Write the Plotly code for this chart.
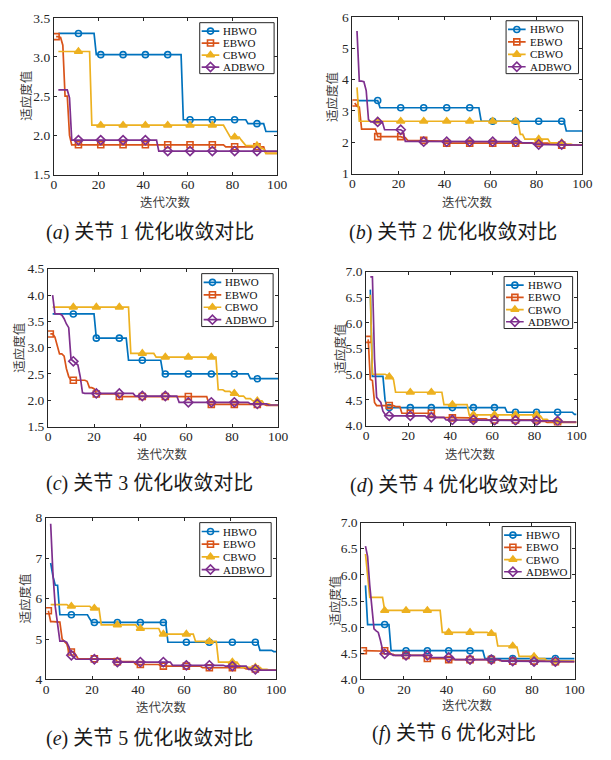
import plotly.graph_objects as go

W, H = 611, 760
LAST_ITER = 100

NAMES = ["HBWO", "EBWO", "CBWO", "ADBWO"]
COLORS = ["#0072BD", "#D95319", "#EDB120", "#7E2F8E"]
SYMBOLS = ["circle-open", "square-open", "triangle-up", "diamond-open"]
SIZES = [6, 6, 7, 7]

# Best-so-far fitness curves: iteration where each level starts, and the level.
# Joint 1
J1_HBWO_IT = [2, 19, 58, 87, 95]
J1_HBWO_FIT = [3.30, 3.03, 2.20, 2.15, 2.05]
J1_EBWO_IT = [1, 3, 4, 5, 7, 8, 77, 95]
J1_EBWO_FIT = [3.26, 3.25, 3.15, 2.50, 2.00, 1.88, 1.855, 1.77]
J1_CBWO_IT = [2, 17, 77, 78, 79, 84, 85, 86, 92, 93, 95]
J1_CBWO_FIT = [3.07, 2.13, 2.08, 2.02, 1.98, 1.94, 1.90, 1.87, 1.85, 1.83, 1.77]
J1_ADBWO_IT = [2, 7, 8, 47]
J1_ADBWO_FIT = [2.58, 2.48, 1.94, 1.80]

# Joint 2
J2_HBWO_IT = [2, 12, 56, 93]
J2_HBWO_FIT = [3.33, 3.10, 2.67, 2.36]
J2_EBWO_IT = [1, 2, 3, 4, 11, 22, 24, 37, 40, 86, 90]
J2_EBWO_FIT = [3.25, 3.15, 3.12, 2.42, 2.18, 2.15, 2.06, 2.04, 1.97, 1.94, 1.91]
J2_CBWO_IT = [2, 3, 73, 75, 86, 93, 96]
J2_CBWO_FIT = [3.75, 2.67, 2.25, 2.10, 1.98, 1.94, 1.91]
J2_ADBWO_IT = [2, 3, 5, 6, 7, 8, 14, 22, 23, 31, 74, 79, 93]
J2_ADBWO_FIT = [5.55, 3.95, 3.93, 3.65, 2.72, 2.65, 2.40, 2.35, 2.03, 2.02, 1.98, 1.93, 1.91]

# Joint 3
J3_HBWO_IT = [2, 21, 35, 50, 88]
J3_HBWO_FIT = [3.64, 3.18, 2.76, 2.50, 2.41]
J3_EBWO_IT = [1, 3, 4, 5, 7, 8, 9, 10, 17, 18, 20, 21, 31, 70, 95]
J3_EBWO_FIT = [3.26, 3.20, 3.05, 2.88, 2.84, 2.60, 2.45, 2.38, 2.36, 2.24, 2.22, 2.12, 2.07, 1.92, 1.90]
J3_CBWO_IT = [2, 36, 47, 74, 77, 80, 83, 86, 89, 94, 97]
J3_CBWO_FIT = [3.77, 2.89, 2.82, 2.20, 2.17, 2.13, 2.08, 2.03, 1.99, 1.93, 1.91]
J3_ADBWO_IT = [2, 3, 6, 7, 8, 9, 10, 11, 12, 13, 14, 15, 16, 38, 57, 88, 96]
J3_ADBWO_FIT = [4.00, 3.64, 3.62, 3.55, 3.45, 3.38, 2.78, 2.74, 2.70, 2.67, 2.45, 2.14, 2.13, 2.08, 1.96, 1.93, 1.91]

# Joint 4
J4_HBWO_IT = [2, 3, 9, 10, 67, 99]
J4_HBWO_FIT = [6.65, 4.96, 4.50, 4.35, 4.26, 4.22]
J4_EBWO_IT = [1, 2, 3, 4, 5, 14, 17, 33, 40, 50, 58, 82, 86]
J4_EBWO_FIT = [5.68, 4.90, 4.88, 4.45, 4.39, 4.37, 4.24, 4.16, 4.15, 4.13, 4.11, 4.08, 4.06]
J4_CBWO_IT = [2, 3, 10, 11, 13, 14, 37, 49, 82, 84, 87, 95]
J4_CBWO_FIT = [6.55, 5.00, 4.98, 4.95, 4.90, 4.65, 4.41, 4.21, 4.18, 4.12, 4.08, 4.07]
J4_ADBWO_IT = [2, 4, 5, 6, 7, 8, 9, 10, 11, 29, 38, 60, 80, 92]
J4_ADBWO_FIT = [6.90, 5.30, 4.55, 4.50, 4.45, 4.28, 4.22, 4.20, 4.19, 4.16, 4.11, 4.10, 4.09, 4.07]

# Joint 5
J5_HBWO_IT = [2, 3, 4, 6, 19, 20, 53, 93, 99]
J5_HBWO_FIT = [6.88, 6.55, 6.33, 5.60, 5.50, 5.41, 4.92, 4.72, 4.69]
J5_EBWO_IT = [1, 2, 6, 7, 8, 9, 10, 13, 14, 31, 39, 50, 68, 87, 92]
J5_EBWO_FIT = [5.70, 5.43, 5.42, 5.00, 4.93, 4.88, 4.68, 4.60, 4.51, 4.44, 4.37, 4.33, 4.29, 4.26, 4.23]
J5_CBWO_IT = [2, 10, 20, 24, 40, 50, 65, 75, 84, 85, 94, 97]
J5_CBWO_FIT = [5.85, 5.81, 5.76, 5.35, 5.26, 5.12, 4.94, 4.43, 4.35, 4.30, 4.25, 4.23]
J5_ADBWO_IT = [2, 3, 4, 5, 6, 9, 10, 11, 12, 13, 30, 55, 78, 88, 92]
J5_ADBWO_FIT = [7.85, 6.60, 5.80, 5.30, 4.95, 4.92, 4.80, 4.60, 4.55, 4.50, 4.43, 4.35, 4.33, 4.25, 4.23]

# Joint 6
J6_HBWO_IT = [2, 3, 14, 58]
J6_HBWO_FIT = [5.80, 5.05, 4.55, 4.40]
J6_EBWO_IT = [1, 12, 14, 16, 31, 40, 65, 70, 90]
J6_EBWO_FIT = [4.55, 4.54, 4.48, 4.46, 4.40, 4.38, 4.36, 4.35, 4.34]
J6_CBWO_IT = [2, 3, 4, 11, 38, 60, 64, 72, 74, 83, 87, 89]
J6_CBWO_FIT = [6.40, 6.00, 5.57, 5.32, 4.90, 4.88, 4.64, 4.62, 4.44, 4.40, 4.36, 4.35]
J6_ADBWO_IT = [2, 3, 4, 5, 6, 7, 8, 9, 10, 11, 15, 33, 44, 66, 77]
J6_ADBWO_FIT = [6.55, 6.35, 5.80, 5.30, 4.97, 4.93, 4.90, 4.75, 4.57, 4.49, 4.46, 4.42, 4.38, 4.35, 4.34]

X_TICKS = [0, 20, 40, 60, 80, 100]
X_TITLE = "迭代次数"
Y_TITLE = "适应度值"

PANELS = [
    dict(tag="a", caption="关节 1 优化收敛对比",
         it=[J1_HBWO_IT, J1_EBWO_IT, J1_CBWO_IT, J1_ADBWO_IT],
         fit=[J1_HBWO_FIT, J1_EBWO_FIT, J1_CBWO_FIT, J1_ADBWO_FIT],
         yrange=[1.5, 3.5], dtick=0.5, fmt=".1f",
         box=(52, 280, 11, 171), cap=(150, 230), leg=(201, 16, 76, 52),
         ytl=(23, 91), xtl=(166, 198)),
    dict(tag="b", caption="关节 2 优化收敛对比",
         it=[J2_HBWO_IT, J2_EBWO_IT, J2_CBWO_IT, J2_ADBWO_IT],
         fit=[J2_HBWO_FIT, J2_EBWO_FIT, J2_CBWO_FIT, J2_ADBWO_FIT],
         yrange=[1, 6], dtick=1, fmt="d",
         box=(357, 592, 10, 170), cap=(460, 230), leg=(514, 14, 74, 54),
         ytl=(335, 92), xtl=(475, 198)),
    dict(tag="c", caption="关节 3 优化收敛对比",
         it=[J3_HBWO_IT, J3_EBWO_IT, J3_CBWO_IT, J3_ADBWO_IT],
         fit=[J3_HBWO_FIT, J3_EBWO_FIT, J3_CBWO_FIT, J3_ADBWO_FIT],
         yrange=[1.5, 4.5], dtick=0.5, fmt=".1f",
         box=(46, 281, 267, 428), cap=(150, 486), leg=(203, 272, 73, 54),
         ytl=(15, 348), xtl=(163, 455)),
    dict(tag="d", caption="关节 4 优化收敛对比",
         it=[J4_HBWO_IT, J4_EBWO_IT, J4_CBWO_IT, J4_ADBWO_IT],
         fit=[J4_HBWO_FIT, J4_EBWO_FIT, J4_CBWO_FIT, J4_ADBWO_FIT],
         yrange=[4.0, 7.0], dtick=0.5, fmt=".1f",
         box=(371, 586, 270, 427), cap=(461, 488), leg=(512, 275, 70, 53),
         ytl=(343, 349), xtl=(478, 455)),
    dict(tag="e", caption="关节 5 优化收敛对比",
         it=[J5_HBWO_IT, J5_EBWO_IT, J5_CBWO_IT, J5_ADBWO_IT],
         fit=[J5_HBWO_FIT, J5_EBWO_FIT, J5_CBWO_FIT, J5_ADBWO_FIT],
         yrange=[4, 8], dtick=1, fmt="d",
         box=(44, 279, 521, 686), cap=(150, 746), leg=(201, 526, 73, 55),
         ytl=(22, 604), xtl=(162, 714)),
    dict(tag="f", caption="关节 6 优化对比",
         it=[J6_HBWO_IT, J6_EBWO_IT, J6_CBWO_IT, J6_ADBWO_IT],
         fit=[J6_HBWO_FIT, J6_EBWO_FIT, J6_CBWO_FIT, J6_ADBWO_FIT],
         yrange=[4.0, 7.0], dtick=0.5, fmt=".1f",
         box=(366, 584, 526, 686), cap=(461, 741), leg=(510, 530, 70, 53),
         ytl=(338, 606), xtl=(475, 712)),
]

SERIF = "Liberation Serif, 'Times New Roman', serif"
MIXED = "Liberation Serif, 'Noto Sans CJK SC', serif"
INK = "#262626"
LINE_W = 1.7

# Legend key geometry, in pixels inside each legend frame
KEY_X0, KEY_X1, KEY_MID, KEY_TEXT = 2, 20, 11, 22
ROW_FRAC0, ROW_STEP = 0.165, 0.235


def held_curve(starts, levels):
    """Expand level-change points into one best-so-far value per iteration."""
    xs, ys = [], []
    j = 0
    for k in range(starts[0], LAST_ITER + 1):
        while j + 1 < len(starts) and starts[j + 1] <= k:
            j += 1
        xs.append(k)
        ys.append(levels[j])
    return xs, ys


def marker_style(s):
    return dict(symbol=SYMBOLS[s], size=SIZES[s], color=COLORS[s],
                line=dict(width=1.6, color=COLORS[s]))


fig = go.Figure()
layout = dict(
    width=W, height=H, margin=dict(l=0, r=0, t=0, b=0),
    paper_bgcolor="white", plot_bgcolor="rgba(0,0,0,0)",
    font=dict(family=SERIF, size=13, color=INK),
    showlegend=False,
    annotations=[],
)

n_panels = len(PANELS)
for p_idx, p in enumerate(PANELS, start=1):
    xa = "x" if p_idx == 1 else f"x{p_idx}"
    ya = "y" if p_idx == 1 else f"y{p_idx}"
    for s, name in enumerate(NAMES):
        xs, ys = held_curve(p["it"][s], p["fit"][s])
        mk = [i for i, k in enumerate(xs) if (k - 1) % 10 == 0]
        fig.add_trace(go.Scatter(x=xs, y=ys, mode="lines", xaxis=xa, yaxis=ya,
                                 name=name, line=dict(color=COLORS[s], width=LINE_W),
                                 hoverinfo="skip"))
        fig.add_trace(go.Scatter(x=[xs[i] for i in mk], y=[ys[i] for i in mk],
                                 mode="markers", xaxis=xa, yaxis=ya, name=name,
                                 marker=marker_style(s)))

    l, r, t, b = p["box"]
    axis_common = dict(showline=True, linecolor=INK, linewidth=1, mirror="ticks",
                       ticks="inside", ticklen=3, tickcolor=INK, showgrid=False,
                       zeroline=False, tickfont=dict(family=SERIF, size=13.5, color=INK))
    layout["xaxis" if p_idx == 1 else f"xaxis{p_idx}"] = dict(
        axis_common, domain=[l / W, r / W], anchor=ya, range=[0, 100],
        tickvals=X_TICKS, ticklabelstandoff=-3)
    layout["yaxis" if p_idx == 1 else f"yaxis{p_idx}"] = dict(
        axis_common, domain=[1 - b / H, 1 - t / H], anchor=xa,
        range=p["yrange"], dtick=p["dtick"], tick0=p["yrange"][0],
        tickformat=p["fmt"])

    # Legend frame on its own hidden axes, one pixel per unit
    n = n_panels + p_idx
    lxa, lya = f"x{n}", f"y{n}"
    gx, gy, gw, gh = p["leg"]
    layout[f"xaxis{n}"] = dict(domain=[(gx - 2) / W, (gx + gw + 2) / W],
                               range=[-2, gw + 2], visible=False, anchor=lya,
                               fixedrange=True)
    layout[f"yaxis{n}"] = dict(domain=[1 - (gy + gh + 2) / H, 1 - (gy - 2) / H],
                               range=[gh + 2, -2], visible=False, anchor=lxa,
                               fixedrange=True)
    fig.add_trace(go.Scatter(x=[0, gw, gw, 0, 0], y=[0, 0, gh, gh, 0],
                             mode="lines", fill="toself", fillcolor="white",
                             line=dict(color=INK, width=1), xaxis=lxa, yaxis=lya,
                             hoverinfo="skip"))
    for s, name in enumerate(NAMES):
        row = gh * (ROW_FRAC0 + s * ROW_STEP)
        fig.add_trace(go.Scatter(x=[KEY_X0, KEY_X1], y=[row, row], mode="lines",
                                 line=dict(color=COLORS[s], width=LINE_W),
                                 xaxis=lxa, yaxis=lya, hoverinfo="skip"))
        fig.add_trace(go.Scatter(x=[KEY_MID], y=[row], mode="markers",
                                 marker=marker_style(s), xaxis=lxa, yaxis=lya,
                                 hoverinfo="skip"))
        layout["annotations"].append(dict(
            text=name, x=KEY_TEXT, y=row, xref=lxa, yref=lya, showarrow=False,
            xanchor="left", yanchor="middle",
            font=dict(family=SERIF, size=11, color="#111111")))

    cx, cy = p["cap"]
    layout["annotations"].append(dict(
        text=f"(<i>{p['tag']}</i>) {p['caption']}", x=cx / W, y=1 - cy / H,
        xref="paper", yref="paper", showarrow=False, xanchor="center",
        yanchor="middle", font=dict(family=MIXED, size=20, color="#1a1a1a")))
    tx, ty = p["xtl"]
    layout["annotations"].append(dict(
        text=X_TITLE, x=tx / W, y=1 - ty / H, xref="paper", yref="paper",
        showarrow=False, xanchor="center", yanchor="middle",
        font=dict(family="Noto Sans CJK SC", size=12.5, color="#404040")))
    vx, vy = p["ytl"]
    layout["annotations"].append(dict(
        text=Y_TITLE, x=vx / W, y=1 - vy / H, xref="paper", yref="paper",
        showarrow=False, xanchor="center", yanchor="middle", textangle=-90,
        font=dict(family="Noto Sans CJK SC", size=12.5, color="#404040")))

fig.update_layout(**layout)
fig.write_html("out.html")
